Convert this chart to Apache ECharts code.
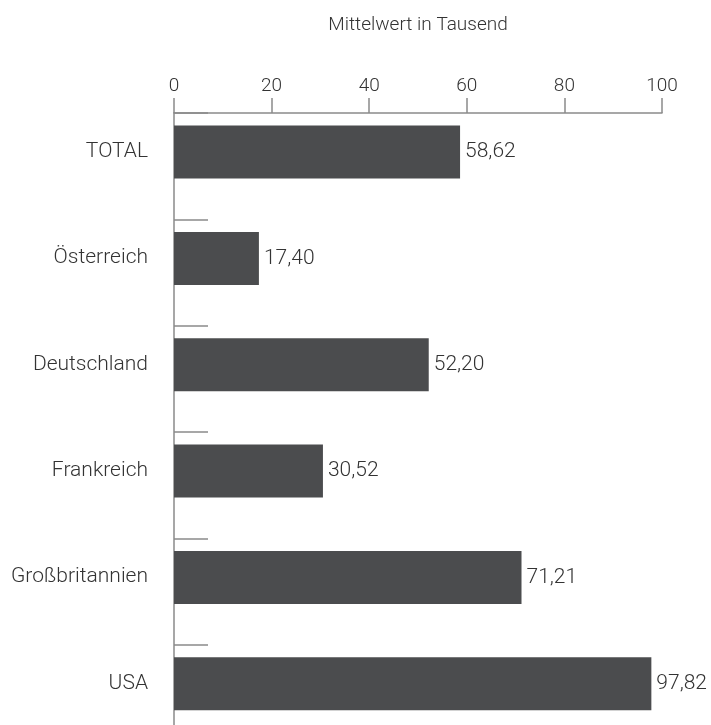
<!DOCTYPE html>
<html><head><meta charset="utf-8">
<script src="https://cdn.jsdelivr.net/npm/echarts@6/dist/echarts.min.js"></script>
<style>html,body{margin:0;padding:0;background:#fff}#c{width:711px;height:725px}</style>
</head><body><div id="c"></div>
<script>
const categories = ['TOTAL', 'Österreich', 'Deutschland', 'Frankreich', 'Großbritannien', 'USA'];
const values = [58.62, 17.40, 52.20, 30.52, 71.21, 97.82];
const xTicks = [0, 20, 40, 60, 80, 100];
const axisTitle = 'Mittelwert in Tausend';

const FONT = 'Roboto';
const txt = '#333333';
const axisCol = '#8a8a8a';
const chart = echarts.init(document.getElementById('c'));
chart.setOption({
  animation: false,
  grid: { left: 174, width: 488, top: 113, height: 638, containLabel: false, outerBoundsMode: 'none' },
  xAxis: {
    type: 'value', position: 'top', min: xTicks[0], max: xTicks[xTicks.length - 1], interval: 20,
    name: axisTitle, nameLocation: 'middle', nameGap: 78,
    nameTextStyle: { fontFamily: FONT, fontWeight: 300, fontSize: 19, color: txt },
    axisLine: { show: true, lineStyle: { color: axisCol, width: 1.5 } },
    axisTick: { show: true, length: 15, lineStyle: { color: axisCol, width: 1.5 } },
    axisLabel: { margin: 17, fontFamily: FONT, fontWeight: 300, fontSize: 19, color: txt },
    splitLine: { show: false }
  },
  yAxis: {
    type: 'category', data: categories, inverse: true,
    axisLine: { show: true, lineStyle: { color: axisCol, width: 1.5 } },
    axisTick: { show: true, inside: true, length: 34, lineStyle: { color: axisCol, width: 1.5 } },
    axisLabel: { margin: 26, fontFamily: FONT, fontWeight: 300, fontSize: 21, color: txt,
      verticalAlign: 'bottom', lineHeight: 21, padding: [0, 0, 4, 0] }
  },
  series: [
    {
      type: 'bar', data: values, barWidth: 53, barGap: '-47%',
      itemStyle: { color: '#4b4c4e' },
      label: {
        show: true, position: 'right', distance: 5,
        fontFamily: FONT, fontWeight: 300, fontSize: 21, color: txt,
        formatter: p => p.value.toFixed(2).replace('.', ',')
      }
    },
    { type: 'bar', data: [], barWidth: 53 }
  ]
});
</script></body></html>
